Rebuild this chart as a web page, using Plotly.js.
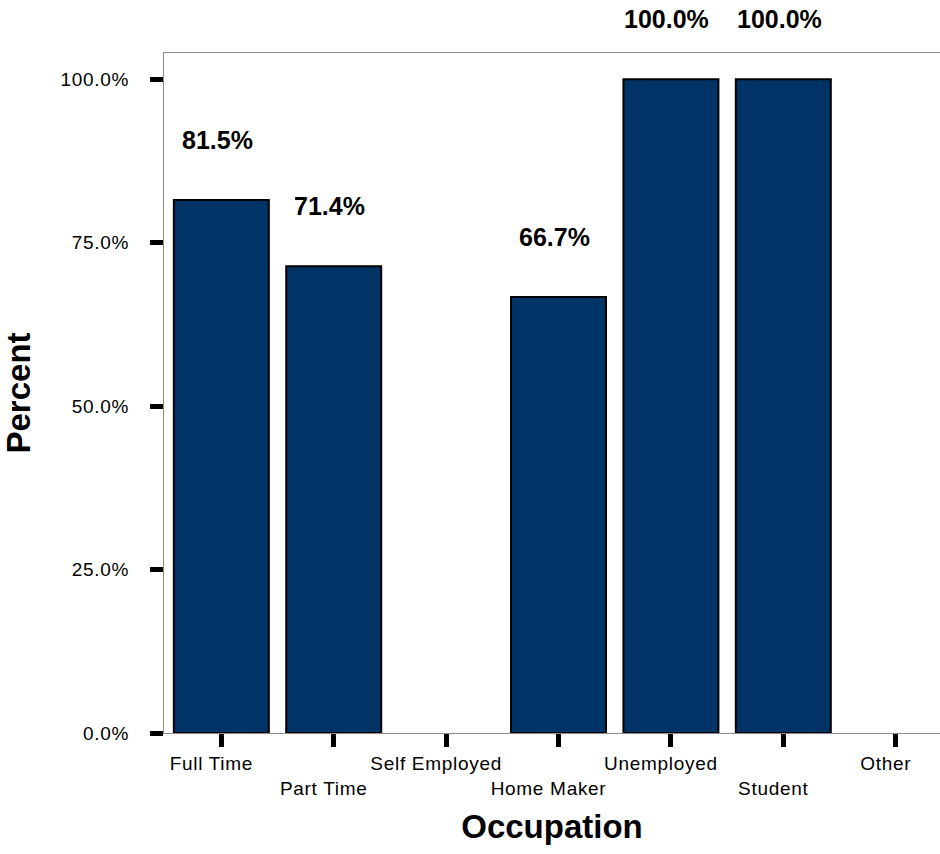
<!DOCTYPE html>
<html>
<head>
<meta charset="utf-8">
<script src="https://cdn.plot.ly/plotly-3.0.1.min.js"></script>
<style>
  html, body { margin: 0; padding: 0; background: #ffffff; }
  #chart { width: 940px; height: 854px; }
  .xtick text, .ytick text { letter-spacing: 0.7px; }
</style>
</head>
<body>
<div id="chart"></div>
<script>
// Share of respondents by occupation (percent)
const occupations = ['Full Time', 'Part Time', 'Self Employed', 'Home Maker', 'Unemployed', 'Student', 'Other'];
const percents = [81.5, 71.4, null, 66.7, 100.0, 100.0, null];
const yTickValues = [0, 25, 50, 75, 100];
const yTickLabels = ['0.0%', '25.0%', '50.0%', '75.0%', '100.0%'];

const FONT = 'Liberation Sans, Arial, Helvetica, sans-serif';

// Alternate category labels onto two rows so the long names do not collide
const staggeredLabels = occupations.map((name, i) => (i % 2 === 1 ? '<br>' + name : name));

const barTrace = {
  type: 'bar',
  x: occupations,
  y: percents,
  width: 0.845,
  marker: { color: '#003366', line: { color: '#000000', width: 2 } },
  hoverinfo: 'x+y',
  cliponaxis: false
};

// Value labels floating above each bar
const valueLabels = [];
occupations.forEach((name, i) => {
  if (percents[i] === null) return;
  valueLabels.push({
    x: name, y: percents[i], xref: 'x', yref: 'y',
    text: percents[i].toFixed(1) + '%',
    showarrow: false, xanchor: 'center', yanchor: 'middle',
    xshift: -4, yshift: 60,
    font: { family: FONT, size: 25, weight: 'bold', color: '#000000' }
  });
});

const layout = {
  width: 940,
  height: 854,
  margin: { l: 164, r: 0, t: 53, b: 121, pad: 0 },
  paper_bgcolor: '#ffffff',
  plot_bgcolor: '#ffffff',
  showlegend: false,
  font: { family: FONT, color: '#000000' },
  xaxis: {
    type: 'category',
    categoryorder: 'array',
    categoryarray: occupations,
    range: [-0.51, 6.394],
    tickmode: 'array',
    tickvals: occupations,
    ticktext: staggeredLabels,
    tickangle: 0,
    ticks: 'outside', ticklen: 13, tickwidth: 5, tickcolor: '#000000',
    ticklabelshift: -10,
    ticklabelstandoff: 0,
    tickfont: { family: FONT, size: 19, color: '#000000' },
    showline: true, linecolor: '#8c8c8c', linewidth: 1, mirror: true,
    showgrid: false, zeroline: false,
    automargin: false, fixedrange: true,
    title: { text: 'Occupation', standoff: 17, font: { family: FONT, size: 33, weight: 'bold', color: '#000000' } }
  },
  yaxis: {
    range: [0, 104],
    tickmode: 'array',
    tickvals: yTickValues,
    ticktext: yTickLabels,
    ticks: 'outside', ticklen: 13, tickwidth: 5, tickcolor: '#000000',
    ticklabelstandoff: 17,
    tickfont: { family: FONT, size: 19, color: '#000000' },
    showline: true, linecolor: '#8c8c8c', linewidth: 1,
    showgrid: false, zeroline: false,
    automargin: false, fixedrange: true,
    title: { text: 'Percent', standoff: 24, font: { family: FONT, size: 33, weight: 'bold', color: '#000000' } }
  },
  annotations: valueLabels
};

Plotly.newPlot('chart', [barTrace], layout, { displayModeBar: false, staticPlot: true });
</script>
</body>
</html>
